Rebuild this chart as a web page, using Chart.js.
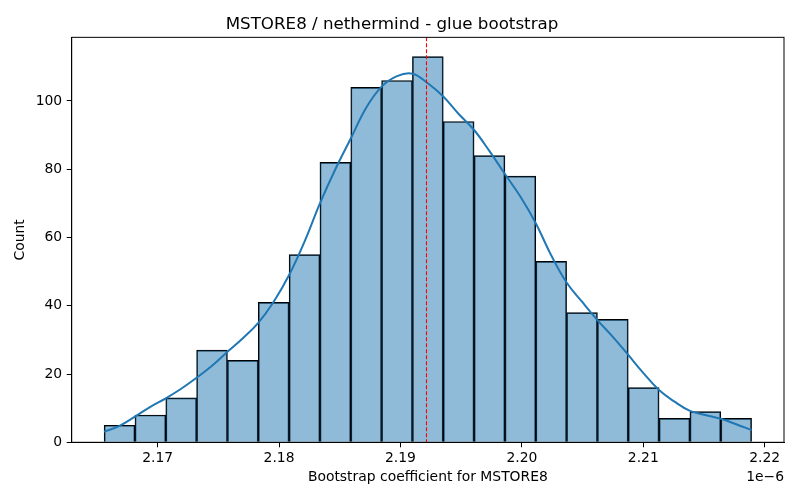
<!DOCTYPE html>
<html>
<head>
<meta charset="utf-8">
<script src="https://cdn.jsdelivr.net/npm/chart.js@4.4.1/dist/chart.umd.min.js"></script>
<style>
  html, body { margin: 0; padding: 0; background: #fff; }
  #wrap { width: 800px; height: 500px; }
</style>
</head>
<body>
<div id="wrap"><canvas id="histChart" width="800" height="500"></canvas></div>
<script>
// Histogram bins (x values in units of 1e-6)
const binStart = 2.16559;
const binWidth = 0.0025395;
const counts = [5, 8, 13, 27, 24, 41, 55, 82, 104, 106, 113, 94, 84, 78, 53, 38, 36, 16, 7, 9, 7];

// KDE curve read at every half bin, from first edge to last edge
const kdeCounts = [
    3.1, 4.8, 7.5, 10.4, 12.9, 15.7, 18.9, 22.4, 26.5, 30.5,
    35.0, 41.2, 49.0, 58.8, 70.0, 80.0, 89.0, 98.0, 104.2, 107.3,
    108.0, 105.2, 101.3, 96.2, 91.5, 85.3, 78.6, 72.0, 64.2, 54.8,
    46.8, 41.2, 35.8, 30.9, 25.6, 20.2, 15.3, 11.9, 9.2, 8.0,
    6.9, 5.3, 3.6
];

// bootstrap point estimate (red dashed line)
const pointEstimate = 2.19208;

// axes
const xTicks = [2.17, 2.18, 2.19, 2.20, 2.21, 2.22];
const yTicks = [0, 20, 40, 60, 80, 100];
const xMin = 2.16292, xMax = 2.22159;
const yMax = 118.65;

const barData = counts.map((c, i) => ({ x: binStart + (i + 0.5) * binWidth, y: c }));
const kdeData = kdeCounts.map((c, i) => ({ x: binStart + i * binWidth / 2, y: c }));

const FONT = "'DejaVu Sans', sans-serif";

// frame (top/right spines), vline and the 1e-6 offset text
const extras = {
    id: 'extras',
    afterDatasetsDraw(chart) {
        const { ctx, chartArea: a, scales: { x } } = chart;
        const px = Math.round(x.getPixelForValue(pointEstimate)) + 0.5;
        ctx.save();
        ctx.strokeStyle = '#ff0000';
        ctx.lineWidth = 1.1;
        ctx.setLineDash([4, 2]);
        ctx.beginPath();
        ctx.moveTo(px, a.top);
        ctx.lineTo(px, a.bottom);
        ctx.stroke();
        ctx.restore();
    },
    afterDraw(chart) {
        const { ctx, chartArea: a } = chart;
        ctx.save();
        ctx.strokeStyle = '#000';
        ctx.lineWidth = 1;
        ctx.strokeRect(a.left, a.top, a.right - a.left, a.bottom - a.top);
        ctx.fillStyle = '#000';
        ctx.font = '13.9px ' + FONT;
        ctx.textAlign = 'right';
        ctx.textBaseline = 'middle';
        ctx.fillText('1e\u22126', a.right, 477);
        ctx.restore();
    }
};

const ctx = document.getElementById('histChart').getContext('2d');
const histChart = new Chart(ctx, {
    data: {
        datasets: [{
            type: 'line',
            label: 'KDE',
            data: kdeData,
            borderColor: '#1f77b4',
            borderWidth: 2,
            pointRadius: 0,
            tension: 0.4,
            fill: false,
            order: 0
        }, {
            type: 'bar',
            label: 'Count',
            data: barData,
            backgroundColor: 'rgba(31, 119, 180, 0.5)',
            borderColor: '#000',
            borderWidth: 1,
            barPercentage: 1,
            categoryPercentage: 1,
            order: 1
        }]
    },
    options: {
        responsive: false,
        animation: false,
        layout: { padding: { left: 0, right: 16, top: 0, bottom: 0 } },
        plugins: {
            legend: { display: false },
            tooltip: { enabled: false },
            title: {
                display: true,
                text: 'MSTORE8 / nethermind - glue bootstrap',
                color: '#000',
                font: { family: FONT, size: 16.7, weight: 'normal' },
                padding: { top: 15, bottom: 2.3 }
            }
        },
        scales: {
            x: {
                type: 'linear',
                min: xMin,
                max: xMax,
                offset: false,
                afterBuildTicks: s => { s.ticks = xTicks.map(v => ({ value: v })); },
                afterFit: s => { s.height = 57.7; },
                grid: { display: true, offset: false, drawOnChartArea: false, drawTicks: true, tickLength: 5, color: '#000' },
                border: { display: true, color: '#000' },
                ticks: {
                    color: '#000',
                    padding: 3,
                    maxRotation: 0,
                    font: { family: FONT, size: 13.9 },
                    callback: v => v.toFixed(2)
                },
                title: {
                    display: true,
                    text: 'Bootstrap coefficient for MSTORE8',
                    color: '#000',
                    font: { family: FONT, size: 13.9 },
                    padding: { top: 0, bottom: 14.7 }
                }
            },
            y: {
                min: 0,
                max: yMax,
                afterBuildTicks: s => { s.ticks = yTicks.map(v => ({ value: v })); },
                afterFit: s => { s.width = 71.7; },
                grid: { display: true, drawOnChartArea: false, drawTicks: true, tickLength: 5, color: '#000' },
                border: { display: true, color: '#000' },
                ticks: {
                    color: '#000',
                    padding: 4.5,
                    font: { family: FONT, size: 13.9 }
                },
                title: {
                    display: true,
                    text: 'Count',
                    color: '#000',
                    font: { family: FONT, size: 13.9 },
                    padding: { top: 12.4, bottom: 0 }
                }
            }
        }
    },
    plugins: [extras]
});
</script>
</body>
</html>
